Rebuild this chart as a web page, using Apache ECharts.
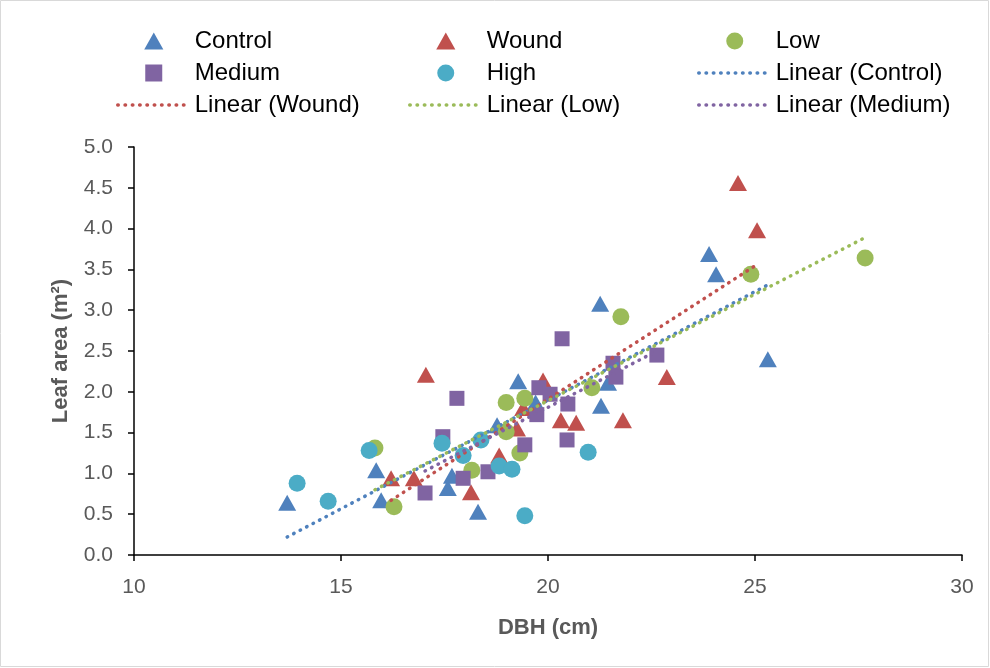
<!DOCTYPE html>
<html>
<head>
<meta charset="utf-8">
<script src="https://cdn.jsdelivr.net/npm/echarts@6/dist/echarts.min.js"></script>
<style>
  html, body { margin: 0; padding: 0; background: #fff; }
  #main { width: 990px; height: 668px; }
</style>
</head>
<body>
<div id="main"></div>
<script>
// data: DBH (cm) and leaf area (m2) per treatment
var controlDBH  = [13.70, 15.85, 15.97, 17.58, 17.68, 18.31, 18.77, 19.28, 19.70, 21.26, 21.28, 21.45, 23.89, 24.06, 25.31];
var controlLeaf = [0.64, 1.04, 0.67, 0.82, 0.97, 0.53, 1.59, 2.13, 1.87, 3.08, 1.83, 2.11, 3.69, 3.44, 2.40];

var woundDBH  = [16.21, 16.76, 17.05, 18.14, 18.82, 19.25, 19.40, 19.88, 20.31, 20.68, 21.81, 22.87, 24.59, 25.05];
var woundLeaf = [0.94, 0.94, 2.21, 0.77, 1.22, 1.55, 1.80, 2.14, 1.65, 1.62, 1.65, 2.18, 4.56, 3.98];

var lowDBH  = [15.82, 16.28, 18.16, 18.99, 19.44, 18.99, 19.32, 21.06, 21.76, 24.90, 27.66];
var lowLeaf = [1.31, 0.59, 1.04, 1.87, 1.92, 1.51, 1.25, 2.05, 2.92, 3.44, 3.64];

var mediumDBH  = [17.03, 17.80, 17.46, 17.95, 18.55, 19.44, 19.78, 20.05, 19.73, 20.48, 20.46, 20.34, 21.57, 21.64, 22.63];
var mediumLeaf = [0.76, 1.92, 1.45, 0.94, 1.02, 1.35, 2.05, 1.97, 1.72, 1.85, 1.41, 2.65, 2.35, 2.18, 2.45];

var highDBH  = [13.94, 14.69, 15.68, 17.44, 17.95, 18.38, 18.82, 19.13, 19.44, 20.97];
var highLeaf = [0.88, 0.66, 1.28, 1.37, 1.22, 1.41, 1.09, 1.05, 0.48, 1.26];

// trendline end points
var trendControl = [[13.70, 0.22], [25.31, 3.31]];
var trendWound   = [[16.21, 0.67], [25.05, 3.56]];
var trendLow     = [[15.82, 0.80], [27.66, 3.89]];
var trendMedium  = [[17.03, 1.03], [22.63, 2.50]];

var xTicks = [10, 15, 20, 25, 30];
var yTicks = [0, 0.5, 1, 1.5, 2, 2.5, 3, 3.5, 4, 4.5, 5];

function pairs(xs, ys) {
    var out = [];
    for (let i = 0; i < xs.length; i++) {
        out.push([xs[i], ys[i]]);
    }
    return out;
}

var myChart = echarts.init(document.getElementById('main'));

var font = 'Liberation Sans';
var dots = [0.5, 6.8];

// path icons keep their aspect in the wide legend box
var legendIcons = {
    'Control': 'path://M9,0L18,16L0,16Z',
    'Wound': 'path://M9,0L18,16L0,16Z',
    'Medium': 'path://M0,0L15,0L15,15L0,15Z',
    'Low': 'circle',
    'High': 'circle'
};

// legend entries: trend lines get an invisible symbol so only the dotted line shows
function entry(name) {
    if (name.indexOf('Linear') === 0) {
        return { name: name, itemStyle: { opacity: 0 } };
    }
    return { name: name, icon: legendIcons[name] };
}

function legendCol(left, names) {
    return {
        orient: 'vertical',
        left: left,
        top: 29,
        padding: 0,
        itemWidth: 72,
        itemHeight: 17,
        itemGap: 8,
        symbolKeepAspect: true,
        data: names.map(entry),
        textStyle: { fontFamily: font, fontSize: 24, color: '#000', lineHeight: 24 },
        lineStyle: { width: 3.5 }
    };
}

function trend(name, color, d) {
    return {
        name: name,
        type: 'line',
        data: d,
        symbol: 'none',
        silent: true,
        z: 5,
        lineStyle: { color: color, width: 3.5, type: dots, cap: 'round' },
        itemStyle: { color: color }
    };
}

var option = {
    animation: false,
    textStyle: { fontFamily: font },
    legend: [
        legendCol(116, ['Control', 'Medium', 'Linear (Wound)']),
        legendCol(408, ['Wound', 'High', 'Linear (Low)']),
        legendCol(697, ['Low', 'Linear (Control)', 'Linear (Medium)'])
    ],
    grid: { left: 134, right: 28, top: 147, bottom: 113 },
    xAxis: {
        type: 'value',
        min: xTicks[0],
        max: xTicks[xTicks.length - 1],
        interval: 5,
        name: 'DBH (cm)',
        nameLocation: 'middle',
        nameGap: 62,
        nameTextStyle: { fontFamily: font, fontSize: 22, fontWeight: 'bold', color: '#595959' },
        axisLine: { onZero: false, lineStyle: { color: '#000', width: 1.5 } },
        axisTick: { show: true, length: 6, lineStyle: { color: '#000', width: 1.5 } },
        axisLabel: { fontFamily: font, fontSize: 21, color: '#595959', margin: 22 },
        splitLine: { show: false }
    },
    yAxis: {
        type: 'value',
        min: yTicks[0],
        max: yTicks[yTicks.length - 1],
        interval: 0.5,
        name: 'Leaf area (m²)',
        nameLocation: 'middle',
        nameGap: 62,
        nameTextStyle: { fontFamily: font, fontSize: 22, fontWeight: 'bold', color: '#595959' },
        axisLine: { show: true, lineStyle: { color: '#000', width: 1.5 } },
        axisTick: { show: true, length: 6, lineStyle: { color: '#000', width: 1.5 } },
        axisLabel: {
            fontFamily: font, fontSize: 21, color: '#595959', margin: 21,
            formatter: function (v) { return v.toFixed(1); }
        },
        splitLine: { show: false }
    },
    graphic: [{
        type: 'rect',
        shape: { x: 0.5, y: 0.5, width: 988, height: 666 },
        style: { fill: 'none', stroke: '#d9d9d9', lineWidth: 1 },
        silent: true
    }],
    series: [
        {
            name: 'Control', type: 'scatter', symbol: 'triangle', symbolSize: [18, 16],
            itemStyle: { color: '#4F81BD', opacity: 1 }, data: pairs(controlDBH, controlLeaf)
        },
        {
            name: 'Wound', type: 'scatter', symbol: 'triangle', symbolSize: [18, 16],
            itemStyle: { color: '#C0504D', opacity: 1 }, data: pairs(woundDBH, woundLeaf)
        },
        {
            name: 'Low', type: 'scatter', symbol: 'circle', symbolSize: 17,
            itemStyle: { color: '#9BBB59', opacity: 1 }, data: pairs(lowDBH, lowLeaf)
        },
        {
            name: 'Medium', type: 'scatter', symbol: 'rect', symbolSize: 15,
            itemStyle: { color: '#8064A2', opacity: 1 }, data: pairs(mediumDBH, mediumLeaf)
        },
        {
            name: 'High', type: 'scatter', symbol: 'circle', symbolSize: 17,
            itemStyle: { color: '#4BACC6', opacity: 1 }, data: pairs(highDBH, highLeaf)
        },
        trend('Linear (Control)', '#4F81BD', trendControl),
        trend('Linear (Wound)', '#C0504D', trendWound),
        trend('Linear (Low)', '#9BBB59', trendLow),
        trend('Linear (Medium)', '#8064A2', trendMedium)
    ]
};
myChart.setOption(option);
</script>
</body>
</html>
